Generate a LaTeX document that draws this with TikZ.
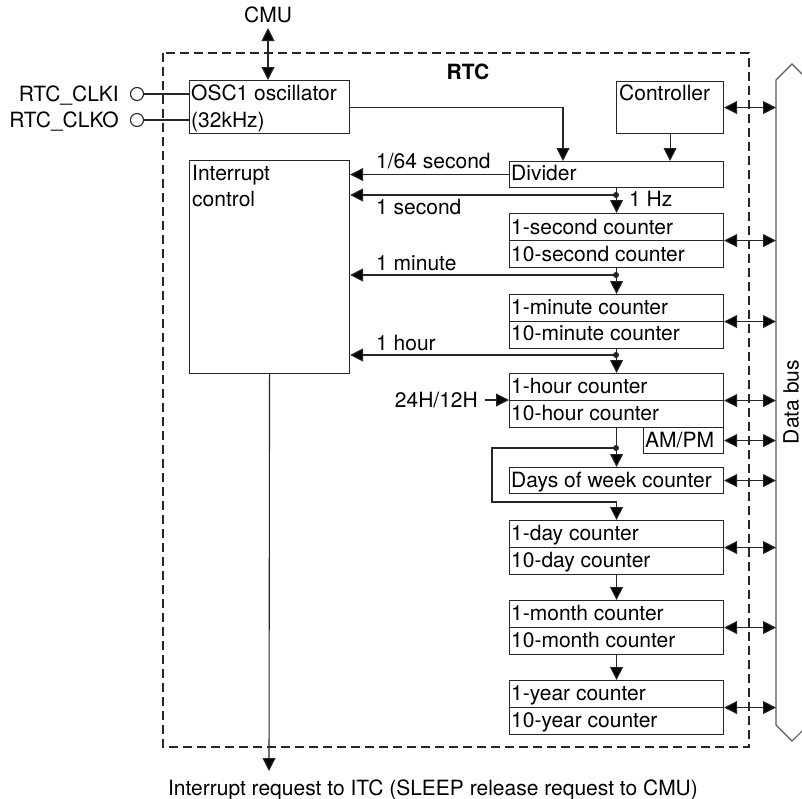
\documentclass[tikz,border=0pt]{standalone}
\usepackage{fontspec}
\setmainfont{TeX Gyre Heros}
\usetikzlibrary{arrows.meta,calc}
\begin{document}
\begin{tikzpicture}[x=1pt,y=-1pt,
  font=\fontsize{21}{25}\selectfont,
  ln/.style={line width=1.1pt, draw=black!85},
  box/.style={ln, rectangle, inner sep=0pt, anchor=north west},
  txt/.style={inner sep=0pt, anchor=base west},
  tip/.style={-{Triangle[length=13pt,width=13pt,fill=black]}},
  bid/.style={{Triangle[length=13pt,width=13pt,fill=black]}-{Triangle[length=13pt,width=13pt,fill=black]}},
  dotn/.style={circle, fill=black!85, inner sep=0pt, minimum size=6pt},
]
\useasboundingbox (0,0) rectangle (802,798);
\clip (0,0) rectangle (802,798);

% RTC frame
\draw[ln, dash pattern=on 9pt off 5pt] (163,53) rectangle (749,747);
\node[font=\fontsize{21}{25}\selectfont\bfseries] (rtc) at (468,72) {RTC};

% data bus
\draw[line width=1.1pt, draw=black!65] (776,80) -- (792,64) -- (808,80) -- (808,725) -- (792,741) -- (776,725) -- cycle;
\coordinate (busL) at (776,400);
\node[rotate=90] (dbus) at (791,402) {Data bus};

% CMU and oscillator
\node[inner sep=0pt, outer sep=5pt] (cmu) at (268,15) {CMU};
\node[box, minimum width=160pt, minimum height=53pt] (osc) at (189,80) {};
\node[txt] (osct1) at (191,100) {OSC1 oscillator};
\node[txt] (osct2) at (191,127) {(32kHz)};
\draw[ln,bid] (cmu.south) -- (cmu.south |- osc.north);

\node[inner sep=0pt, anchor=base east] (clki) at (119,101.5) {RTC\_CLKI};
\node[inner sep=0pt, anchor=base east] (clko) at (119,127.5) {RTC\_CLKO};
\node[circle, ln, minimum size=13pt, inner sep=0pt] (c1) at (137,94) {};
\node[circle, ln, minimum size=13pt, inner sep=0pt] (c2) at (137,120) {};
\draw[ln] (c1.east) -- (c1.east -| osc.west);
\draw[ln] (c2.east) -- (c2.east -| osc.west);

% controller and divider
\node[box, minimum width=107pt, minimum height=52pt] (ctrl) at (616,81) {};
\node[txt] (ctrlt) at (619,100) {Controller};
\node[box, minimum width=214pt, minimum height=26pt] (div) at (509,161) {};
\node[txt] (divt) at (511,180) {Divider};
\coordinate (divin) at (563,161);
\draw[ln,tip] (osc.east) -| (divin);
\draw[ln,tip] (ctrl.south) -- (ctrl.south |- div.north);
\draw[ln,bid] (ctrl.east) -- (ctrl.east -| busL);

% interrupt control
\node[box, minimum width=160pt, minimum height=213pt] (ic) at (189,160) {};
\node[txt] (ict1) at (192,180) {Interrupt};
\node[txt] (ict2) at (192,206) {control};
\coordinate (irqtip) at (269,771);
\draw[ln,tip] (ic.south) -- (irqtip);
\node[inner sep=0pt, anchor=base] (irq) at (433,795) {Interrupt request to ITC (SLEEP release request to CMU)};

% counters
\node[box, minimum width=214pt, minimum height=54pt] (sec) at (509,213) {};
\draw[ln] (sec.west) -- (sec.east);
\node[txt] (sect1) at (511,234) {1-second counter};
\node[txt] (sect2) at (511,261) {10-second counter};

\node[box, minimum width=214pt, minimum height=54pt] (min) at (509,294) {};
\draw[ln] (min.west) -- (min.east);
\node[txt] (mint1) at (511,314) {1-minute counter};
\node[txt] (mint2) at (511,340) {10-minute counter};

\node[box, minimum width=214pt, minimum height=54pt] (hour) at (509,373) {};
\draw[ln] (hour.west) -- (hour.east);
\node[txt] (hourt1) at (511,393) {1-hour counter};
\node[txt] (hourt2) at (511,420) {10-hour counter};

\node[box, minimum width=80pt, minimum height=26pt] (ampm) at (643,427) {};
\node[txt] (ampmt) at (645,447) {AM/PM};

\node[box, minimum width=214pt, minimum height=26pt] (days) at (509,467) {};
\node[txt] (dayst) at (511,487) {Days of week counter};

\node[box, minimum width=214pt, minimum height=54pt] (day) at (509,520) {};
\draw[ln] (day.west) -- (day.east);
\node[txt] (dayt1) at (511,540) {1-day counter};
\node[txt] (dayt2) at (511,567) {10-day counter};

\node[box, minimum width=214pt, minimum height=54pt] (mon) at (509,600) {};
\draw[ln] (mon.west) -- (mon.east);
\node[txt] (mont1) at (511,620) {1-month counter};
\node[txt] (mont2) at (511,647) {10-month counter};

\node[box, minimum width=214pt, minimum height=54pt] (year) at (509,680) {};
\draw[ln] (year.west) -- (year.east);
\node[txt] (yeart1) at (511,700) {1-year counter};
\node[txt] (yeart2) at (511,727) {10-year counter};

% signal lines to interrupt control
\draw[ln,tip] (div.west) -- (div.west -| ic.east);
\node[txt] (l64) at (376,168) {1/64 second};

\node[dotn] (d1) at (616,195) {};
\draw[ln,tip] (div.south) -- (sec.north);
\draw[ln,tip] (d1.center) -- (d1.center -| ic.east);
\node[txt] (l1s) at (376,214) {1 second};
\node[txt] (l1hz) at (629,206) {1 Hz};

\node[dotn] (d2) at (616,275) {};
\draw[ln,tip] (sec.south) -- (min.north);
\draw[ln,tip] (d2.center) -- (d2.center -| ic.east);
\node[txt] (l1m) at (376,270) {1 minute};

\node[dotn] (d3) at (616,355) {};
\draw[ln,tip] (min.south) -- (hour.north);
\draw[ln,tip] (d3.center) -- (d3.center -| ic.east);
\node[txt] (l1h) at (376,350) {1 hour};

% 24H/12H
\node[inner sep=0pt, anchor=base east] (h24) at (478,407) {24H/12H};
\coordinate (h24out) at (485,400);
\draw[ln,tip] (h24out) -- (h24out -| hour.west);

% hour -> days, feedback to day
\node[dotn] (d4) at (616,448) {};
\draw[ln,tip] (hour.south) -- (days.north);
\draw[ln,tip] (d4.center) -- ++(-124,0) -- ++(0,54) -| (day.north);
\draw[ln,tip] (day.south) -- (mon.north);
\draw[ln,tip] (mon.south) -- (year.north);

% bus connections
\draw[ln,bid] (sec.east) -- (sec.east -| busL);
\draw[ln,bid] (min.east) -- (min.east -| busL);
\draw[ln,bid] (hour.east) -- (hour.east -| busL);
\draw[ln,bid] (ampm.east) -- (ampm.east -| busL);
\draw[ln,bid] (days.east) -- (days.east -| busL);
\draw[ln,bid] (day.east) -- (day.east -| busL);
\draw[ln,bid] (mon.east) -- (mon.east -| busL);
\draw[ln,bid] (year.east) -- (year.east -| busL);
\end{tikzpicture}
\end{document}
